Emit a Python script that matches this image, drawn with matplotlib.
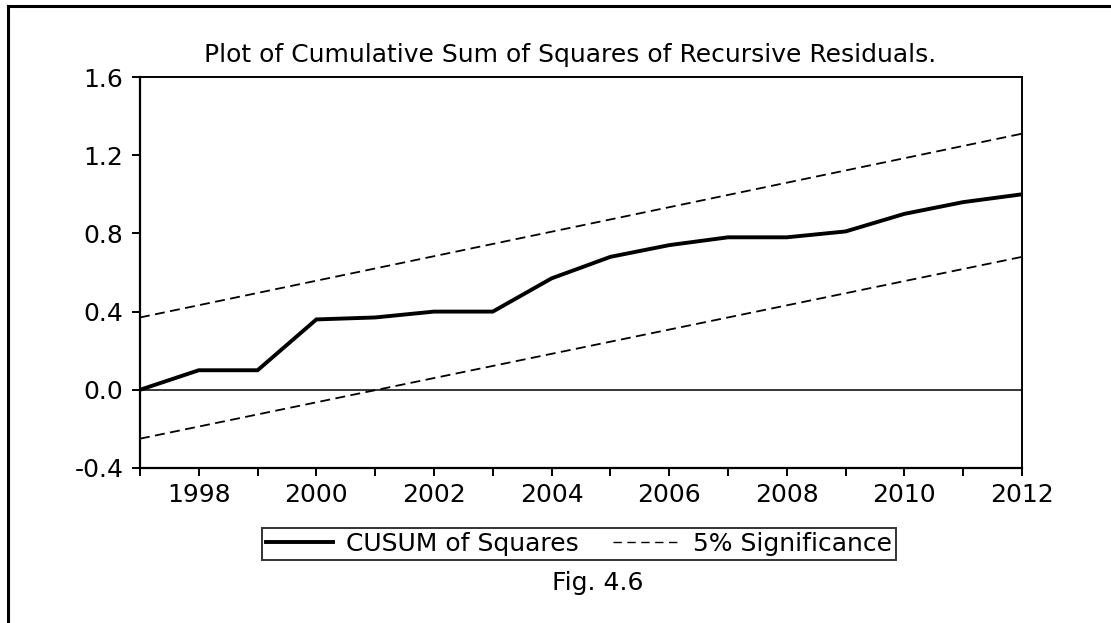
import matplotlib
matplotlib.use('Agg')
import matplotlib.pyplot as plt
import matplotlib.lines as mlines

plt.rcParams['font.family'] = ['DejaVu Sans']

# CUSUM of squares, one value per year
years = [1997, 1998, 1999, 2000, 2001, 2002, 2003, 2004,
         2005, 2006, 2007, 2008, 2009, 2010, 2011, 2012]
cusum_sq = [0.0, 0.10, 0.10, 0.36, 0.37, 0.40, 0.40, 0.57,
            0.68, 0.74, 0.78, 0.78, 0.81, 0.90, 0.96, 1.00]

# 5% significance bounds (straight lines, end points)
bound_years = [1997, 2012]
upper_bound = [0.37, 1.31]
lower_bound = [-0.25, 0.68]

y_ticks = [-0.4, 0.0, 0.4, 0.8, 1.2, 1.6]
x_labels = [1998, 2000, 2002, 2004, 2006, 2008, 2010, 2012]

FS = 18

fig = plt.figure(figsize=(11.11, 6.23), dpi=100)
ax = fig.add_axes([0.126, 0.2488, 0.7939, 0.6276])

ax.plot(years, cusum_sq, color='k', linewidth=2.8, solid_joinstyle='miter', zorder=4)
ax.plot(bound_years, upper_bound, color='k', linewidth=1.3, dashes=(5.5, 3), zorder=3)
ax.plot(bound_years, lower_bound, color='k', linewidth=1.3, dashes=(5.5, 3), zorder=3)
ax.axhline(0, color='k', linewidth=1.1, zorder=2)

ax.set_xlim(1997, 2012)
ax.set_ylim(-0.4, 1.6)
ax.set_yticks(y_ticks)
ax.set_yticklabels([f'{v:.1f}' for v in y_ticks])
ax.set_xticks(years, minor=True)
ax.set_xticks(x_labels)
ax.set_xticklabels([str(v) for v in x_labels])

for sp in ['top', 'right']:
    ax.spines[sp].set_linewidth(1.4)
ax.spines['left'].set_linewidth(1.6)
ax.spines['bottom'].set_linewidth(1.6)

ax.tick_params(axis='both', which='both', direction='out', length=6, width=1.4,
               labelsize=FS, pad=6)
ax.tick_params(axis='x', which='major', pad=5)

# title sits a little left of the axes centre in the original
ax.set_title('Plot of Cumulative Sum of Squares of Recursive Residuals.',
             fontsize=FS, pad=11, x=(570 - 140) / 882)

h1 = mlines.Line2D([], [], color='k', linewidth=2.8)
h2 = mlines.Line2D([], [], color='k', linewidth=1.0, dashes=(6, 4))
leg = fig.legend([h1, h2], ['CUSUM of Squares', '5% Significance'],
                 loc='center', bbox_to_anchor=(579 / 1111, 1 - 544 / 623),
                 ncol=2, fontsize=FS, frameon=True, fancybox=False,
                 edgecolor='k', handlelength=2.7, columnspacing=1.4,
                 borderpad=0.15, handletextpad=0.5, borderaxespad=0)
leg.get_frame().set_linewidth(1.4)

fig.text(598 / 1111, 1 - 583 / 623, 'Fig. 4.6', ha='center', va='center', fontsize=FS)

# outer frame (left and top edges only are visible)
fig.add_artist(mlines.Line2D([8 / 1111, 8 / 1111], [0, 1 - 6 / 623],
                             transform=fig.transFigure, color='k', linewidth=2.2))
fig.add_artist(mlines.Line2D([8 / 1111, 1], [1 - 6 / 623, 1 - 6 / 623],
                             transform=fig.transFigure, color='k', linewidth=2.2))

fig.savefig('out.png', dpi=100)
